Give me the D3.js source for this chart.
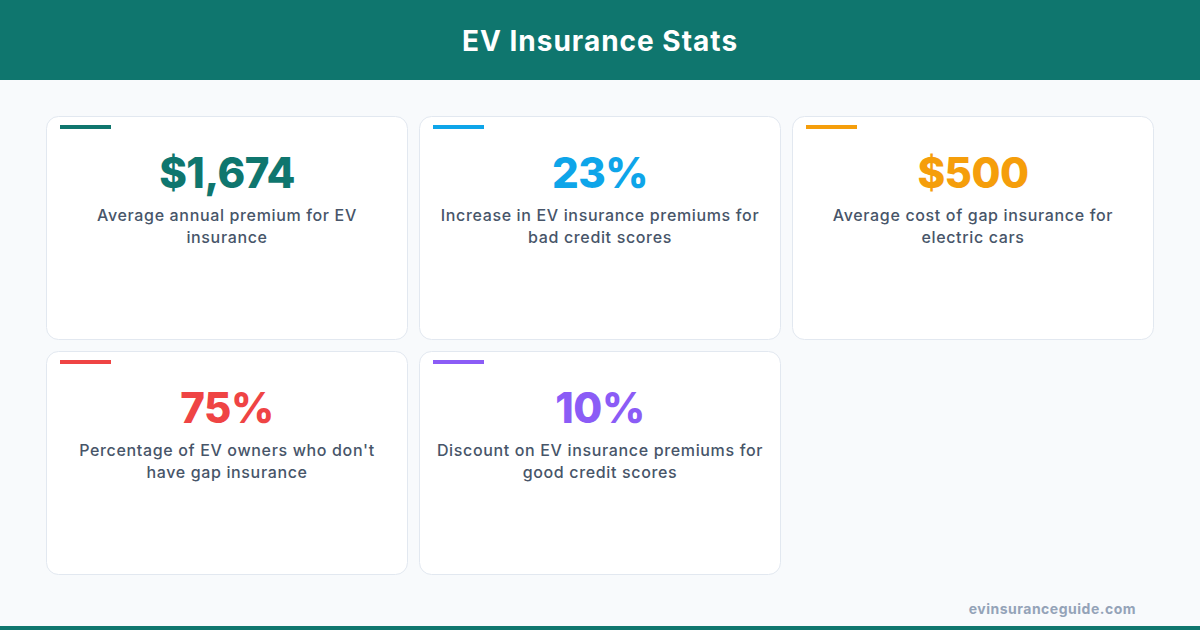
<!DOCTYPE html>
<html lang="en">
    <head>
        <meta charset="utf-8">
        <title>EV Insurance Stats</title>
        <script src="https://cdn.jsdelivr.net/npm/d3@7/dist/d3.min.js"></script>
    </head>
    <style>
        body { margin: 0; background: #f8fafc; }
        svg { display: block; }
    </style>
    <body>
        <script type="text/javascript">

            // stat values, captions and accent colours, one entry per card
            var statValues = ["$1,674", "23%", "$500", "75%", "10%"];
            var statLabels = [
                "Average annual premium for EV insurance",
                "Increase in EV insurance premiums for bad credit scores",
                "Average cost of gap insurance for electric cars",
                "Percentage of EV owners who don't have gap insurance",
                "Discount on EV insurance premiums for good credit scores"
            ];
            var statColors = ["#0f766e", "#0ea5e9", "#f59e0b", "#ef4444", "#8b5cf6"];

            var title = "EV Insurance Stats";
            var source = "evinsuranceguide.com";

            var w = 1200, h = 630;
            var nCols = 3;

            var svg = d3.select("body").append("svg").attr("width", w).attr("height", h);

            svg.append("rect").attr("width", w).attr("height", h).attr("fill", "#f8fafc");

            // header band
            svg.append("rect").attr("width", w).attr("height", 80).attr("fill", "#0f766e");
            svg.append("text")
                .attr("x", w / 2).attr("y", 51)
                .attr("text-anchor", "middle")
                .attr("font-family", "Inter, 'Open Sans', sans-serif")
                .attr("font-weight", 700)
                .attr("font-size", 28)
                .attr("letter-spacing", 1)
                .attr("fill", "white")
                .text(title);

            // bottom stripe
            svg.append("rect").attr("y", h - 4).attr("width", w).attr("height", 4).attr("fill", "#0f766e");

            // grid positions
            var x = d3.scaleBand().domain(d3.range(nCols)).range([46, 1154]).paddingInner(11 / 373);
            var y = d3.scaleBand().domain(d3.range(2)).range([116, 575]).paddingInner(11 / 235);

            var cards = svg.selectAll("g.card").data(statValues).enter().append("g")
                .attr("class", "card")
                .attr("transform", function(d, i) {
                    return "translate(" + x(i % nCols) + "," + y(Math.floor(i / nCols)) + ")";
                });

            cards.append("rect")
                .attr("x", 0.5).attr("y", 0.5)
                .attr("width", x.bandwidth() - 1)
                .attr("height", y.bandwidth() - 1)
                .attr("rx", 12)
                .attr("fill", "white")
                .attr("stroke", "#e2e8f0");

            // small accent bar top-left
            cards.append("rect")
                .attr("x", 14).attr("y", 9)
                .attr("width", 51).attr("height", 4)
                .attr("fill", function(d, i) { return statColors[i]; });

            cards.append("text")
                .attr("x", x.bandwidth() / 2).attr("y", 72)
                .attr("text-anchor", "middle")
                .attr("font-family", "Inter, 'Open Sans', sans-serif")
                .attr("font-weight", 800)
                .attr("font-size", 42)
                .attr("letter-spacing", -0.5)
                .attr("fill", function(d, i) { return statColors[i]; })
                .text(function(d) { return d; });

            // captions, wrapped to the card width
            var maxW = 332;
            cards.append("text")
                .attr("text-anchor", "middle")
                .attr("font-family", "Inter, 'Open Sans', sans-serif")
                .attr("font-weight", 500)
                .attr("font-size", 16)
                .attr("letter-spacing", 0.65)
                .attr("fill", "#475569")
                .each(function(d, i) {
                    var t = d3.select(this);
                    var words = statLabels[i].split(" ");
                    var line = [], lineNo = 0;
                    var tspan = t.append("tspan").attr("x", x.bandwidth() / 2).attr("y", 105);
                    words.forEach(function(word) {
                        line.push(word);
                        tspan.text(line.join(" "));
                        if (tspan.node().getComputedTextLength() > maxW && line.length > 1) {
                            line.pop();
                            tspan.text(line.join(" "));
                            line = [word];
                            lineNo++;
                            tspan = t.append("tspan")
                                .attr("x", x.bandwidth() / 2)
                                .attr("y", 105 + lineNo * 22)
                                .text(word);
                        }
                    });
                });

            svg.append("text")
                .attr("x", 1136).attr("y", 614)
                .attr("text-anchor", "end")
                .attr("font-family", "Inter, 'Open Sans', sans-serif")
                .attr("font-weight", 700)
                .attr("font-size", 14)
                .attr("letter-spacing", 0.5)
                .attr("fill", "#94a3b8")
                .text(source);
        </script>
    </body>
</html>
